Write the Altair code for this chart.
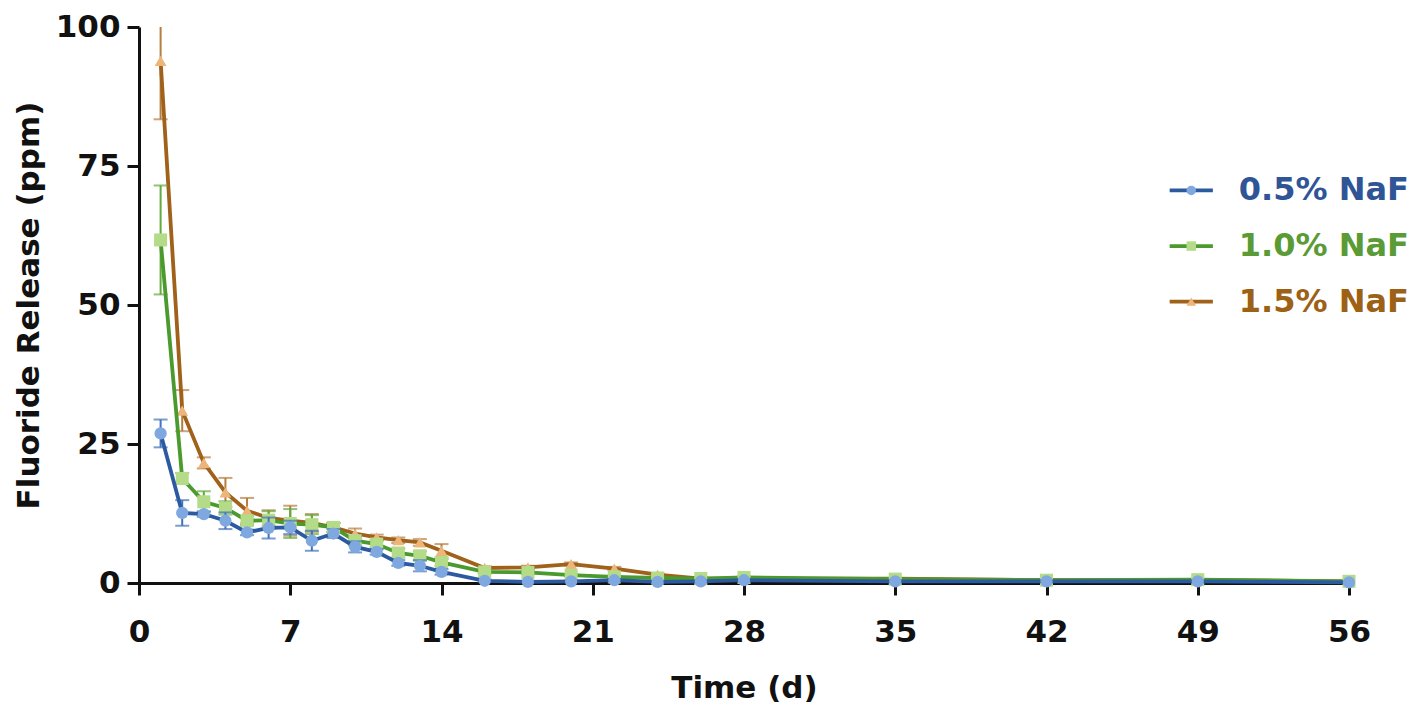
import altair as alt
import pandas as pd

days = [1, 2, 3, 4, 5, 6, 7, 8, 9, 10, 11, 12, 13, 14, 16, 18, 20, 22, 24, 26, 28, 35, 42, 49, 56]

series_names = ["0.5% NaF", "1.0% NaF", "1.5% NaF"]

naf_05 = [26.9, 12.6, 12.4, 11.2, 9.1, 9.9, 10.0, 7.6, 8.9, 6.5, 5.6, 3.6, 3.1, 2.0,
          0.4, 0.2, 0.3, 0.5, 0.2, 0.3, 0.5, 0.3, 0.3, 0.3, 0.1]
naf_05_sd = [2.5, 2.3, 0.5, 1.5, 0.5, 1.9, 1.2, 1.8, 0.8, 1.0, 0.5, 0.5, 1.0, 0.5,
             0.2, 0.1, 0.1, 0.2, 0.1, 0.1, 0.2, 0.1, 0.1, 0.1, 0.1]

naf_10 = [61.7, 18.8, 14.6, 13.5, 11.2, 11.3, 10.7, 10.5, 10.0, 7.6, 7.0, 5.4, 4.9, 3.7,
          2.0, 1.9, 1.4, 1.1, 0.9, 0.8, 1.0, 0.7, 0.5, 0.6, 0.3]
naf_10_sd = [9.8, 1.0, 1.9, 1.2, 0.8, 1.6, 2.6, 1.7, 0.8, 0.8, 0.6, 0.8, 0.8, 0.6,
             0.3, 0.3, 0.2, 0.2, 0.2, 0.2, 0.2, 0.1, 0.1, 0.1, 0.1]

naf_15 = [93.9, 31.0, 21.6, 16.3, 13.0, 11.7, 11.2, 10.8, 10.0, 8.9, 8.2, 7.7, 7.3, 5.8,
          2.7, 2.8, 3.4, 2.6, 1.5, 0.8, 0.8, 0.8, 0.5, 0.5, 0.3]
naf_15_sd = [10.5, 3.7, 1.0, 2.6, 2.3, 1.4, 2.7, 1.6, 0.8, 0.9, 0.5, 0.5, 0.6, 1.2,
             0.3, 0.3, 0.3, 0.3, 0.2, 0.2, 0.2, 0.1, 0.1, 0.1, 0.1]

x_ticks = [0, 7, 14, 21, 28, 35, 42, 49, 56]
y_ticks = [0, 25, 50, 75, 100]

line_colors = ["#2C5AA0", "#4A9A2E", "#A0611A"]
marker_colors = ["#7FA8E0", "#B4DC88", "#EDB57A"]
err_colors = ["#4272BC", "#62AA3E", "#B57D3E"]
text_colors = ["#2F5597", "#5A9B35", "#9C6114"]
shapes = ["circle", "square", "triangle-up"]
marker_sizes = [150, 170, 140]

rows = []
for name, vals, sds in zip(series_names, [naf_05, naf_10, naf_15], [naf_05_sd, naf_10_sd, naf_15_sd]):
    for d, v, s in zip(days, vals, sds):
        rows.append({"series": name, "day": d, "value": v, "lo": max(v - s, 0), "hi": v + s})
df = pd.DataFrame(rows)

# legend entries (placed in data coordinates)
legend_y = [70.6, 60.6, 50.6]
leg_df = pd.DataFrame({
    "series": series_names,
    "y": legend_y,
    "x0": [47.7] * 3,
    "x1": [49.7] * 3,
    "xm": [48.7] * 3,
    "xt": [50.9] * 3,
})

FONT = "DejaVu Sans"

x_scale = alt.Scale(domain=[0, 56], nice=False, zero=False)
y_scale = alt.Scale(domain=[0, 100], nice=False, zero=False)

x_axis = alt.Axis(values=x_ticks, title="Time (d)", grid=False, labelFlush=False,
                  tickSize=12, tickWidth=3, domainWidth=3, labelPadding=22, titlePadding=26)
y_axis = alt.Axis(values=y_ticks, title="Fluoride Release (ppm)", grid=False, labelFlush=False,
                  tickSize=12, tickWidth=3, domainWidth=3, labelPadding=7, titlePadding=10)

X = alt.X("day:Q", scale=x_scale, axis=x_axis)

layers = []
order = [2, 1, 0]
for i in order:
    name = series_names[i]
    sub = alt.Chart(df).transform_filter(alt.datum.series == name)
    err = sub.mark_rule(strokeWidth=2, clip=True, color=err_colors[i]).encode(
        x=X,
        y=alt.Y("lo:Q", scale=y_scale, axis=y_axis),
        y2="hi:Q",
    )
    cap_hi = sub.mark_tick(orient="horizontal", size=14, thickness=2, clip=True,
                           color=err_colors[i]).encode(
        x=X, y=alt.Y("hi:Q", scale=y_scale, axis=y_axis))
    cap_lo = sub.mark_tick(orient="horizontal", size=14, thickness=2, clip=True,
                           color=err_colors[i]).encode(
        x=X, y=alt.Y("lo:Q", scale=y_scale, axis=y_axis))
    line = sub.mark_line(strokeWidth=3.8, color=line_colors[i]).encode(
        x=X, y=alt.Y("value:Q", scale=y_scale, axis=y_axis))
    pts = sub.mark_point(filled=True, opacity=1, shape=shapes[i], size=marker_sizes[i],
                         color=marker_colors[i]).encode(
        x=X, y=alt.Y("value:Q", scale=y_scale, axis=y_axis))
    layers += [err, cap_hi, cap_lo, line, pts]

    lsub = alt.Chart(leg_df).transform_filter(alt.datum.series == name)
    l_line = lsub.mark_rule(strokeWidth=3.8, color=line_colors[i]).encode(
        x=alt.X("x0:Q", scale=x_scale, axis=x_axis), x2="x1:Q",
        y=alt.Y("y:Q", scale=y_scale, axis=y_axis))
    l_pt = lsub.mark_point(filled=True, opacity=1, shape=shapes[i], size=90,
                           color=marker_colors[i]).encode(
        x=alt.X("xm:Q", scale=x_scale, axis=x_axis),
        y=alt.Y("y:Q", scale=y_scale, axis=y_axis))
    l_txt = lsub.mark_text(align="left", baseline="middle", font=FONT, fontSize=32,
                           fontWeight="bold", color=text_colors[i]).encode(
        x=alt.X("xt:Q", scale=x_scale, axis=x_axis),
        y=alt.Y("y:Q", scale=y_scale, axis=y_axis),
        text="series:N")
    layers += [l_line, l_pt, l_txt]

chart = alt.layer(*layers).properties(
    width=1210,
    height=556,
    background="white",
    autosize=alt.AutoSizeParams(type="none"),
    padding={"left": 131, "top": 19, "right": 60, "bottom": 123},
).configure_view(
    stroke=None
).configure_axis(
    labelFont=FONT, titleFont=FONT,
    labelFontSize=31, titleFontSize=31,
    labelFontWeight="bold", titleFontWeight="bold",
    labelColor="#111111", titleColor="#111111",
    domainColor="#111111", tickColor="#111111",
)

chart.save("out.html", embed_options={"renderer": "svg", "actions": False})
